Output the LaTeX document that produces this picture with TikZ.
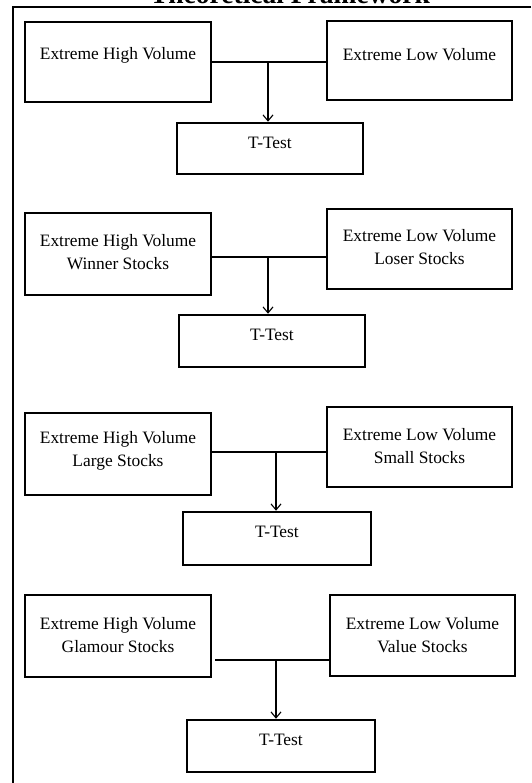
\documentclass[tikz,border=0pt]{standalone}
\usepackage{fontspec}
\setmainfont{Liberation Serif}
\usetikzlibrary{arrows.meta}
\tikzset{
  box/.style={draw=black, line width=2.5pt, rectangle, inner sep=0pt},
  txt/.style={align=center, inner sep=0pt, font=\fontsize{17.4}{23.5}\selectfont},
  link/.style={draw=black, line width=1.1pt},
  arrowlink/.style={link, -{Straight Barb[length=6pt,width=10pt,line width=1.1pt]}},
  frame/.style={draw=black, line width=2pt}
}
\begin{document}
\begin{tikzpicture}[x=1pt,y=-1pt]
\useasboundingbox (0,0) rectangle (531,783);
\clip (0,0) rectangle (531,783);
% frame and cut title
\node[anchor=base, inner sep=0pt, font=\fontsize{27.5}{30}\selectfont\bfseries] (title) at (290,3.5) {Theoretical Framework};
\coordinate (ftl) at (13,7);
\coordinate (ftr) at (531,7);
\coordinate (fbl) at (13,783);
\draw[frame] (ftr) -- (ftl) -- (fbl);

% group 1
\node[box, minimum width=186pt, minimum height=80pt] (hv1) at (118,62) {};
\node[box, minimum width=185pt, minimum height=79pt] (lv1) at (419.5,60.5) {};
\node[box, minimum width=186pt, minimum height=51pt] (tt1) at (270,148.5) {};
\node[txt] (hv1t) at (118,55) {Extreme High Volume};
\node[txt] (lv1t) at (419.5,55) {Extreme Low Volume};
\node[txt] (tt1t) at (270,143) {T-Test};
\coordinate (j1) at (268,62);
\draw[link] (hv1.east |- j1) -- (lv1.west |- j1);
\draw[arrowlink] (j1) -- (tt1.north -| j1);

% group 2
\node[box, minimum width=186pt, minimum height=82pt] (hv2) at (118,254) {};
\node[box, minimum width=185pt, minimum height=80pt] (lv2) at (419.5,249) {};
\node[box, minimum width=186pt, minimum height=52pt] (tt2) at (272,341) {};
\node[txt] (hv2t) at (118,252) {Extreme High Volume\\Winner Stocks};
\node[txt] (lv2t) at (419.5,247) {Extreme Low Volume\\Loser Stocks};
\node[txt] (tt2t) at (272,335) {T-Test};
\coordinate (j2) at (268,257);
\draw[link] (hv2.east |- j2) -- (lv2.west |- j2);
\draw[arrowlink] (j2) -- (tt2.north -| j2);

% group 3
\node[box, minimum width=186pt, minimum height=82pt] (hv3) at (118,454) {};
\node[box, minimum width=185pt, minimum height=80pt] (lv3) at (419.5,447) {};
\node[box, minimum width=188pt, minimum height=53pt] (tt3) at (277,538.5) {};
\node[txt] (hv3t) at (118,451) {Extreme High Volume\\Large Stocks};
\node[txt] (lv3t) at (419.5,446) {Extreme Low Volume\\Small Stocks};
\node[txt] (tt3t) at (277,532) {T-Test};
\coordinate (j3) at (276,452);
\draw[link] (hv3.east |- j3) -- (lv3.west |- j3);
\draw[arrowlink] (j3) -- (tt3.north -| j3);

% group 4
\node[box, minimum width=186pt, minimum height=82pt] (hv4) at (118,636) {};
\node[box, minimum width=185pt, minimum height=81pt] (lv4) at (422.5,635.5) {};
\node[box, minimum width=188pt, minimum height=52pt] (tt4) at (281,746) {};
\node[txt] (hv4t) at (118,635) {Extreme High Volume\\Glamour Stocks};
\node[txt] (lv4t) at (422.5,635) {Extreme Low Volume\\Value Stocks};
\node[txt] (tt4t) at (281,740) {T-Test};
\coordinate (j4) at (276,660);
\draw[link, shorten <=3pt] (hv4.east |- j4) -- (lv4.west |- j4);
\draw[arrowlink] (j4) -- (tt4.north -| j4);
\end{tikzpicture}
\end{document}
